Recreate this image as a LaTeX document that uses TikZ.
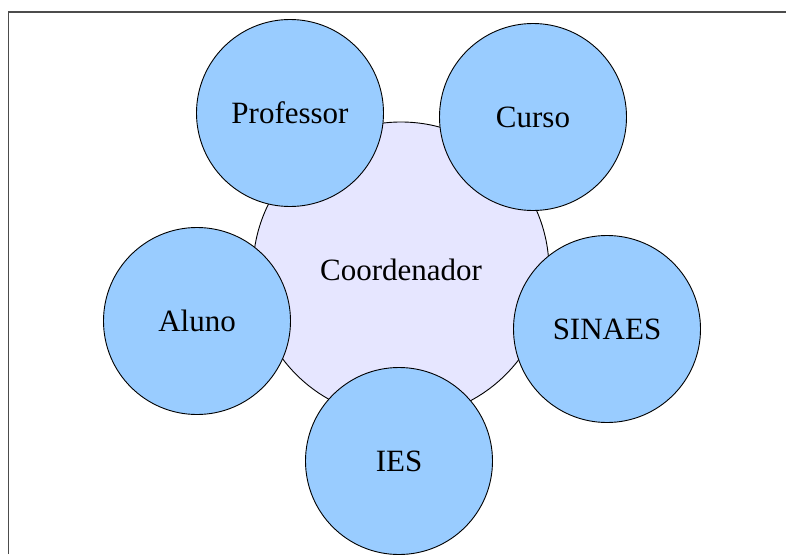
\documentclass[tikz,border=0pt]{standalone}
\usepackage{fontspec}
\setmainfont{Liberation Serif}
\usepackage{tikz}
\usetikzlibrary{positioning}
\definecolor{satblue}{HTML}{99CCFF}
\definecolor{hubblue}{HTML}{E6E6FF}

\begin{document}
\begin{tikzpicture}[x=1pt,y=-1pt,
    hub/.style={circle,draw,line width=0.9pt,fill=hubblue,inner sep=0pt,minimum size=296pt,font=\fontsize{31}{36}\selectfont},
    sat/.style={circle,draw,line width=0.9pt,fill=satblue,inner sep=0pt,minimum size=187pt,font=\fontsize{31}{36}\selectfont}]
    \useasboundingbox (0,0) rectangle (786,554);
    \draw[line width=1.6pt,black!70] (8.5,554) -- (8.5,12) -- (786,12);

    \node[hub] (coord) at (401,270) {Coordenador};
    \node[sat] (prof) at (290,113) {Professor};
    \node[sat] (curso) at (533,117) {Curso};
    \node[sat] (aluno) at (197,321) {Aluno};
    \node[sat] (sinaes) at (607,329) {SINAES};
    \node[sat] (ies) at (399,461) {IES};
  \end{tikzpicture}
\end{document}
